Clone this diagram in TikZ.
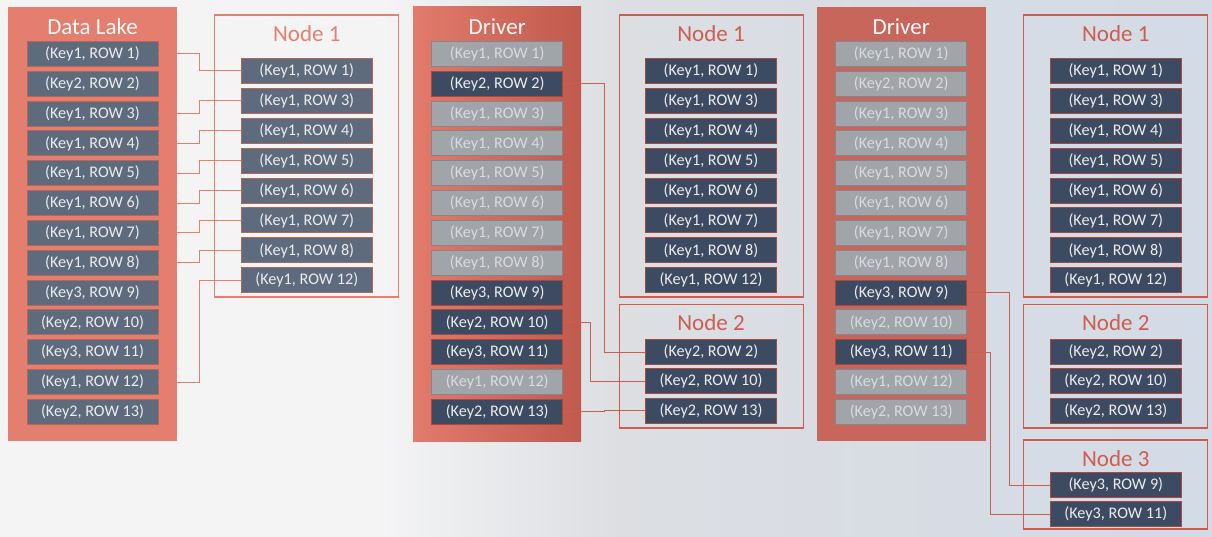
\documentclass[tikz,border=0pt]{standalone}
\usepackage{fontspec}
\setmainfont{Carlito}
\definecolor{bgleft}{HTML}{F4F4F5}
\definecolor{bgmid}{HTML}{DCDEE2}
\definecolor{bgright}{HTML}{D3DBE6}
\definecolor{lakered}{HTML}{E47E6E}
\definecolor{drvleft}{HTML}{E27B6B}
\definecolor{drvright}{HTML}{C05A4E}
\definecolor{drvthree}{HTML}{C9665B}
\definecolor{lakefill}{HTML}{5E6B7D}
\definecolor{lakeedge}{HTML}{B5665A}
\definecolor{darkfill}{HTML}{3D4B62}
\definecolor{darkedge}{HTML}{A54A40}
\definecolor{grayfill}{HTML}{A1A4A9}
\definecolor{grayedge}{HTML}{83868B}
\definecolor{graytext}{HTML}{D9DBDE}
\definecolor{rowtext}{HTML}{ECECEE}
\definecolor{framelight}{HTML}{E4806F}
\definecolor{framedark}{HTML}{CB5E50}
\begin{document}
\begin{tikzpicture}[
    x=1pt, y=-1pt,
    line cap=round,
    rowbox/.style={minimum width=131pt, minimum height=25pt, inner sep=0pt,
      font=\fontsize{16.2}{18}\selectfont, text=rowtext, line width=1pt},
    lakerow/.style={rowbox, fill=lakefill, draw=lakeedge},
    rowon/.style={rowbox, fill=darkfill, draw=darkedge},
    rowoff/.style={rowbox, fill=grayfill, draw=grayedge, text=graytext},
    paneltitle/.style={font=\fontsize{23}{26}\selectfont, text=white!95!lakered},
    nodetitle/.style={font=\fontsize{23}{26}\selectfont},
    nodeframe/.style={line width=1.3pt},
    link/.style={line width=1pt}
]
  \useasboundingbox (0,0) rectangle (1212,537);
  \fill[bgleft] (0,0) rectangle (380,537);
  \shade[left color=bgleft, right color=bgmid] (380,0) rectangle (620,537);
  \shade[left color=bgmid, right color=bgright] (620,0) rectangle (1212,537);

  \fill[lakered] (8,7) rectangle (177,441);
  \shade[left color=drvleft, right color=drvright] (413,7) rectangle (581,441);
  \fill[drvthree] (817,7) rectangle (986,441);

  \node[paneltitle] (lake-title) at (92.5,27) {Data Lake};
  \node[paneltitle] (drva-title) at (497.2,27) {Driver};
  \node[paneltitle] (drvb-title) at (901.2,27) {Driver};

  \foreach \k/\r [count=\i] in {1/1,2/2,1/3,1/4,1/5,1/6,1/7,1/8,3/9,2/10,3/11,1/12,2/13}
    \node[lakerow] (lake-\i) at (92.5,{54+29.83*(\i-1)}) {(Key\k, ROW \r)};

  \foreach \k/\r/\s [count=\i] in {1/1/rowoff,2/2/rowon,1/3/rowoff,1/4/rowoff,
      1/5/rowoff,1/6/rowoff,1/7/rowoff,1/8/rowoff,3/9/rowon,2/10/rowon,
      3/11/rowon,1/12/rowoff,2/13/rowon}
    \node[\s] (drva-\i) at (497.2,{54+29.83*(\i-1)}) {(Key\k, ROW \r)};

  \foreach \k/\r/\s [count=\i] in {1/1/rowoff,2/2/rowoff,1/3/rowoff,1/4/rowoff,
      1/5/rowoff,1/6/rowoff,1/7/rowoff,1/8/rowoff,3/9/rowon,2/10/rowoff,
      3/11/rowon,1/12/rowoff,2/13/rowoff}
    \node[\s] (drvb-\i) at (901.2,{54+29.83*(\i-1)}) {(Key\k, ROW \r)};

  \draw[nodeframe, framelight] (214.5,15) rectangle (398.5,297);
  \node[nodetitle, text=framelight] (n1a-title) at (306.8,34) {Node 1};
  \foreach \r [count=\j] in {1,3,4,5,6,7,8,12}
    \node[lakerow] (n1a-\j) at (306.8,{71+29.9*(\j-1)}) {(Key1, ROW \r)};

  \draw[nodeframe, framedark] (619.5,15) rectangle (803.5,297);
  \node[nodetitle, text=framedark] (n1b-title) at (711,34) {Node 1};
  \foreach \r [count=\j] in {1,3,4,5,6,7,8,12}
    \node[rowon] (n1b-\j) at (711,{71+29.9*(\j-1)}) {(Key1, ROW \r)};

  \draw[nodeframe, framedark] (619.5,304.5) rectangle (803.5,428);
  \node[nodetitle, text=framedark] (n2b-title) at (711,323) {Node 2};
  \foreach \r [count=\j] in {2,10,13}
    \node[rowon] (n2b-\j) at (711,{352+29.3*(\j-1)}) {(Key2, ROW \r)};

  \draw[nodeframe, framedark] (1023.5,15) rectangle (1207.5,297);
  \node[nodetitle, text=framedark] (n1c-title) at (1115.8,34) {Node 1};
  \foreach \r [count=\j] in {1,3,4,5,6,7,8,12}
    \node[rowon] (n1c-\j) at (1115.8,{71+29.9*(\j-1)}) {(Key1, ROW \r)};

  \draw[nodeframe, framedark] (1023.5,304.5) rectangle (1207.5,428);
  \node[nodetitle, text=framedark] (n2c-title) at (1115.8,323) {Node 2};
  \foreach \r [count=\j] in {2,10,13}
    \node[rowon] (n2c-\j) at (1115.8,{352+29.3*(\j-1)}) {(Key2, ROW \r)};

  \draw[nodeframe, framedark] (1023.5,440) rectangle (1207.5,529);
  \node[nodetitle, text=framedark] (n3c-title) at (1115.8,459) {Node 3};
  \node[rowon] (n3c-1) at (1115.8,485) {(Key3, ROW 9)};
  \node[rowon] (n3c-2) at (1115.8,514) {(Key3, ROW 11)};

  \foreach \a/\b in {1/1,3/2,4/3,5/4,6/5,7/6,8/7,12/8}
    \draw[link, framelight] (lake-\a.east) -- ++(41,0) |- (n1a-\b.west);

  \draw[link, framedark] 
    (drva-2.east) -- ++(41.6,0) |- (n2b-1.west)
  ;
  \draw[link, framedark] 
    (drva-10.east) -- ++(27.6,0) |- (n2b-2.west)
  ;
  \draw[link, framedark] 
    (drva-13.east) -- ++(41.6,0) |- (n2b-3.west)
  ;
  \draw[link, framedark] 
    (drvb-9.east) -- ++(42,0) |- (n3c-1.west)
  ;
  \draw[link, framedark] 
    (drvb-11.east) -- ++(23.6,0) |- (n3c-2.west)
  ;
\end{tikzpicture}
\end{document}
